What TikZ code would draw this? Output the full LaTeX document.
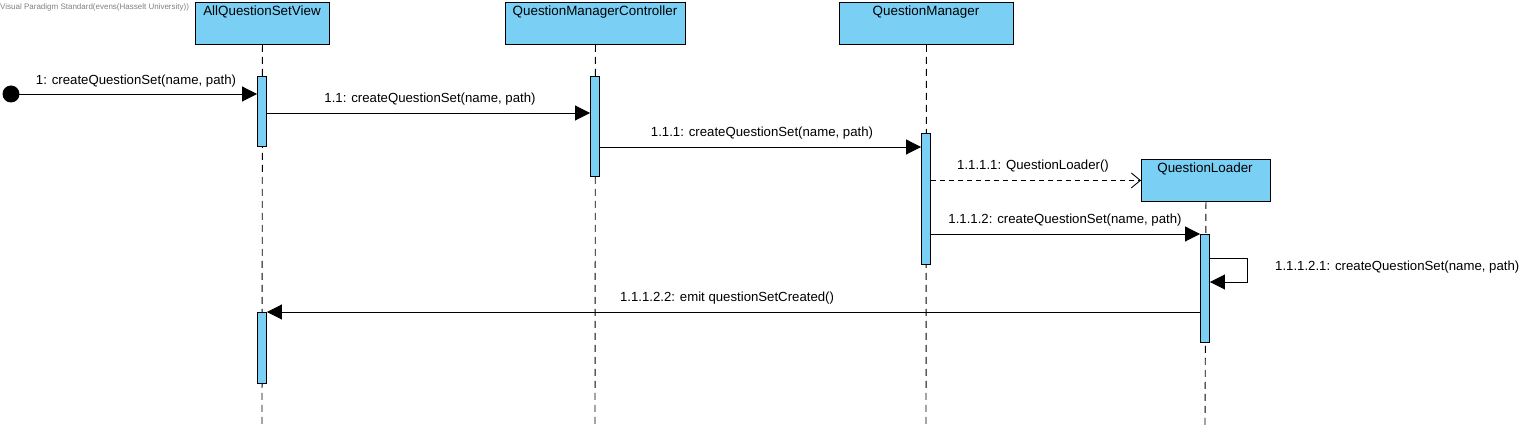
\documentclass[tikz,border=0pt]{standalone}
\usepackage{fontspec}
\setmainfont{Liberation Sans}
\usetikzlibrary{arrows.meta}
\definecolor{vpblue}{RGB}{122,207,245}
\begin{document}
\begin{tikzpicture}[x=1pt,y=-1pt,
  headbox/.style={draw, fill=vpblue, line width=0.9pt, inner sep=0pt, anchor=north west},
  headtext/.style={font=\fontsize{13.4}{15}\selectfont, inner sep=0pt},
  act/.style={draw, fill=vpblue, line width=0.9pt, inner sep=0pt, minimum width=9pt, anchor=north},
  lifeline/.style={line width=0.9pt, dash pattern=on 7pt off 5pt},
  msg/.style={line width=0.9pt, -{Triangle[length=15pt,width=15pt]}},
  ret/.style={line width=0.9pt, dashed, dash pattern=on 5pt off 4pt, -{Straight Barb[length=9pt,width=15pt,line width=0.9pt]}},
  lbl/.style={font=\fontsize{13.2}{15}\selectfont, inner sep=0pt}
]
\useasboundingbox (0,0) rectangle (1535,427);
% watermark
\node[anchor=west, inner sep=0pt, text=gray, font=\fontsize{8}{9}\selectfont] (wm) at (0,7) {Visual Paradigm Standard(evens(Hasselt University))};
% heads
\node[headbox, minimum width=134pt, minimum height=42pt] (v) at (195,2) {};
\node[headtext] (vt) at (262,12) {AllQuestionSetView};
\node[headbox, minimum width=180pt, minimum height=42pt] (c) at (505,2) {};
\node[headtext] (ct) at (595,12) {QuestionManagerController};
\node[headbox, minimum width=174pt, minimum height=42pt] (m) at (839,2) {};
\node[headtext] (mt) at (926,12) {QuestionManager};
\node[headbox, minimum width=129pt, minimum height=42pt] (l) at (1141,159) {};
\node[headtext] (lt) at (1205,169) {QuestionLoader};
% lifelines
\coordinate (vend) at (262,427);
\coordinate (cend) at (595,427);
\coordinate (mend) at (926,427);
\coordinate (lend) at (1205,427);
\draw[lifeline] (v.south) -- (vend);
\draw[lifeline] (c.south) -- (cend);
\draw[lifeline] (m.south) -- (mend);
\draw[lifeline] (l.south) -- (lend);
% activations
\node[act, minimum height=70pt] (a1) at (262,76) {};
\node[act, minimum height=100pt] (a2) at (595,76) {};
\node[act, minimum height=131pt] (a3) at (926,133) {};
\node[act, minimum height=108pt] (a4) at (1205,234) {};
\node[act, minimum height=71pt] (a5) at (262,312) {};
% start
\fill (11,94) circle (8.5pt);
\coordinate (s) at (11,94);
% messages
\draw[msg] (s) -- (a1.west |- s);
\node[lbl] (l1) at (136,81) {1: createQuestionSet(name, path)};
\coordinate (m2y) at (0,113);
\draw[msg] (a1.east |- m2y) -- (a2.west |- m2y);
\node[lbl] (l2) at (430,99) {1.1: createQuestionSet(name, path)};
\coordinate (m3y) at (0,147);
\draw[msg] (a2.east |- m3y) -- (a3.west |- m3y);
\node[lbl] (l3) at (762,133) {1.1.1: createQuestionSet(name, path)};
\draw[ret] (a3.east |- l.west) -- (l.west);
\node[lbl] (l4) at (1033,166) {1.1.1.1: QuestionLoader()};
\coordinate (m5y) at (0,234);
\draw[msg] (a3.east |- m5y) -- (a4.west |- m5y);
\node[lbl] (l5) at (1065,220) {1.1.1.2: createQuestionSet(name, path)};
\coordinate (sa) at (0,258);
\coordinate (sb) at (0,282);
\coordinate (sx) at (1247,0);
\draw[msg] (a4.east |- sa) -- (sx |- sa) -- (sx |- sb) -- (a4.east |- sb);
\node[lbl, anchor=west] (l6) at (1275,267) {1.1.1.2.1: createQuestionSet(name, path)};
\coordinate (m7y) at (0,312);
\draw[msg] (a4.west |- m7y) -- (a5.east |- m7y);
\node[lbl] (l7) at (727,298) {1.1.1.2.2: emit questionSetCreated()};
\end{tikzpicture}
\end{document}
